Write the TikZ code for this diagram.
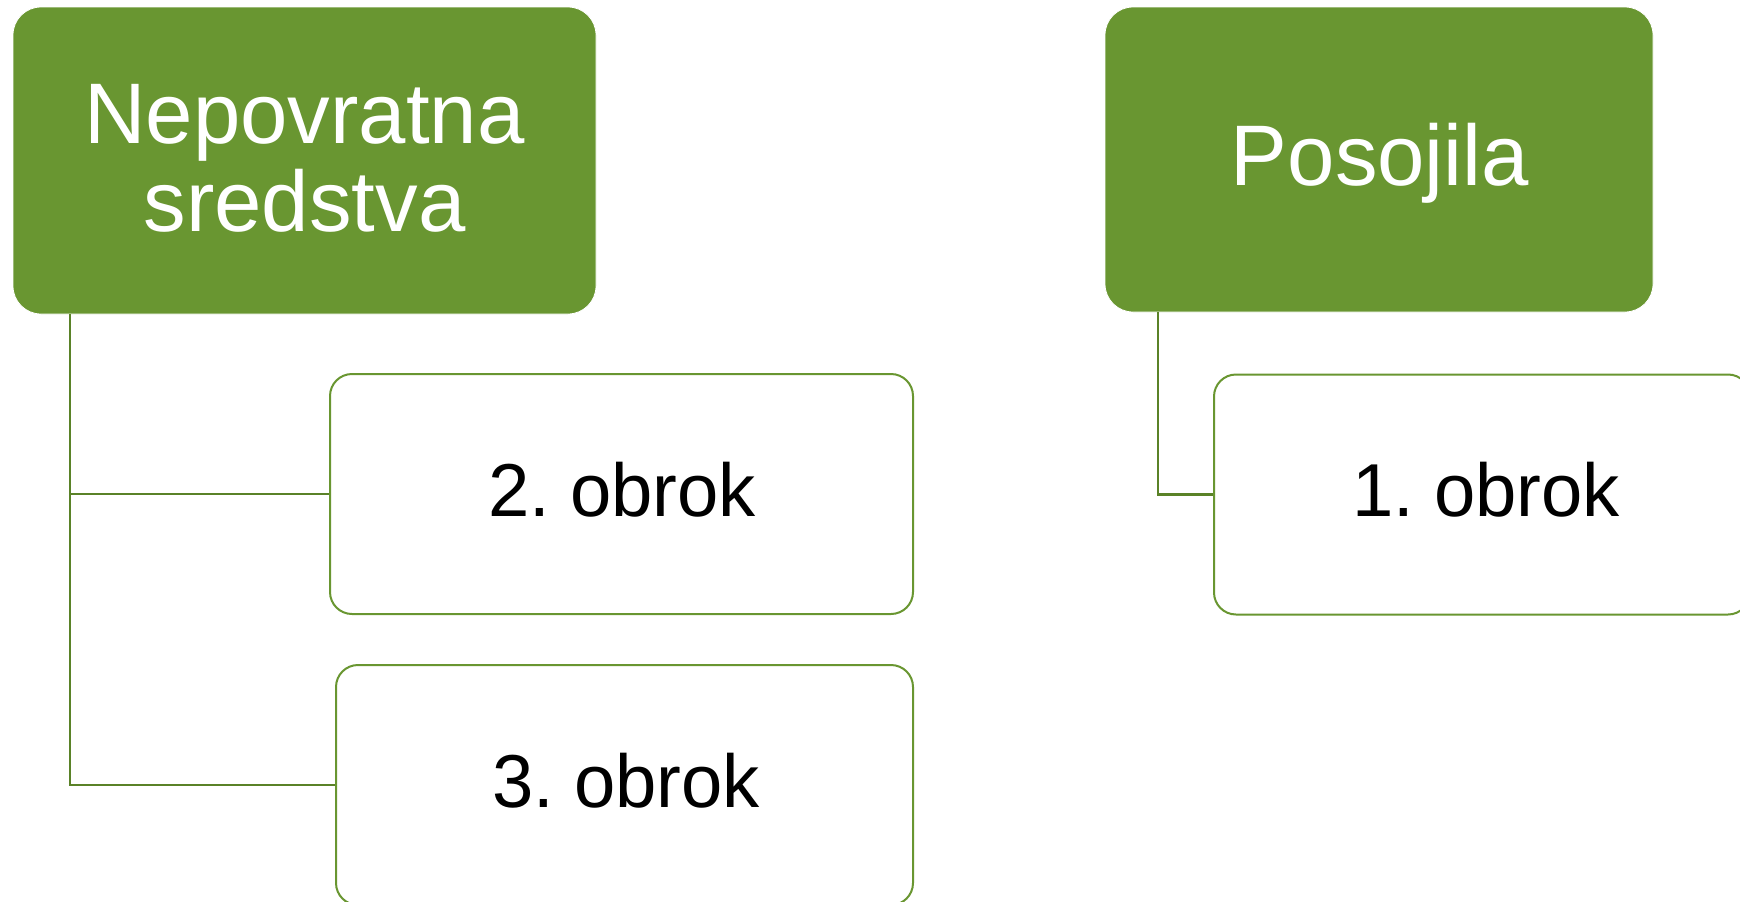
\documentclass[tikz,border=0pt]{standalone}
\usepackage{fontspec}
\setmainfont[FakeStretch=0.99,WordSpace=0.65]{Liberation Sans}
\definecolor{grn}{RGB}{105,150,49}
\definecolor{lgrn}{RGB}{90,130,40}
\begin{document}
\begin{tikzpicture}[x=1pt,y=1pt,
  head/.style={draw=white,line width=0.8pt,fill=grn,rounded corners=28pt,text=white,align=center,inner sep=0pt,
    font=\fontsize{86}{88}\selectfont},
  leaf/.style={draw=grn,line width=2pt,fill=white,rounded corners=22pt,text=black,inner sep=0pt,
    minimum width=#1,minimum height=240pt,font=\fontsize{75}{80}\selectfont},
  lbl/.style={text=black,inner sep=0pt,font=\fontsize{75}{80}\selectfont},
  link/.style={draw=lgrn,line width=2.2pt}]
\useasboundingbox (0,0) rectangle (1740,-902);
\clip (0,0) rectangle (1740,-902);
\node[head,minimum width=583pt,minimum height=307pt] (A) at (304.5,-160.5) {};
\node[head,draw=none,fill=none,minimum width=0pt,minimum height=0pt] (At) at (304.5,-158) {Nepovratna\\sredstva};
\node[head,minimum width=548pt,minimum height=305pt] (B) at (1379,-159.5) {};
\node[head,draw=none,fill=none,minimum width=0pt,minimum height=0pt] (Bt) at (1380,-163) {Posojila};
\node[leaf=583pt] (n2) at (621.5,-494) {};
\node[lbl] (n2t) at (622,-490) {2. obrok};
\node[leaf=577pt] (n3) at (624.5,-785) {};
\node[lbl] (n3t) at (626,-781) {3. obrok};
\node[leaf=536pt] (n1) at (1482,-494.5) {};
\node[lbl] (n1t) at (1486,-490) {1. obrok};
\draw[link] ([xshift=57pt]A.south west) |- (n2.west);
\draw[link] ([xshift=57pt]A.south west) |- (n3.west);
\draw[link] ([xshift=53.5pt]B.south west) |- (n1.west);
\end{tikzpicture}
\end{document}
